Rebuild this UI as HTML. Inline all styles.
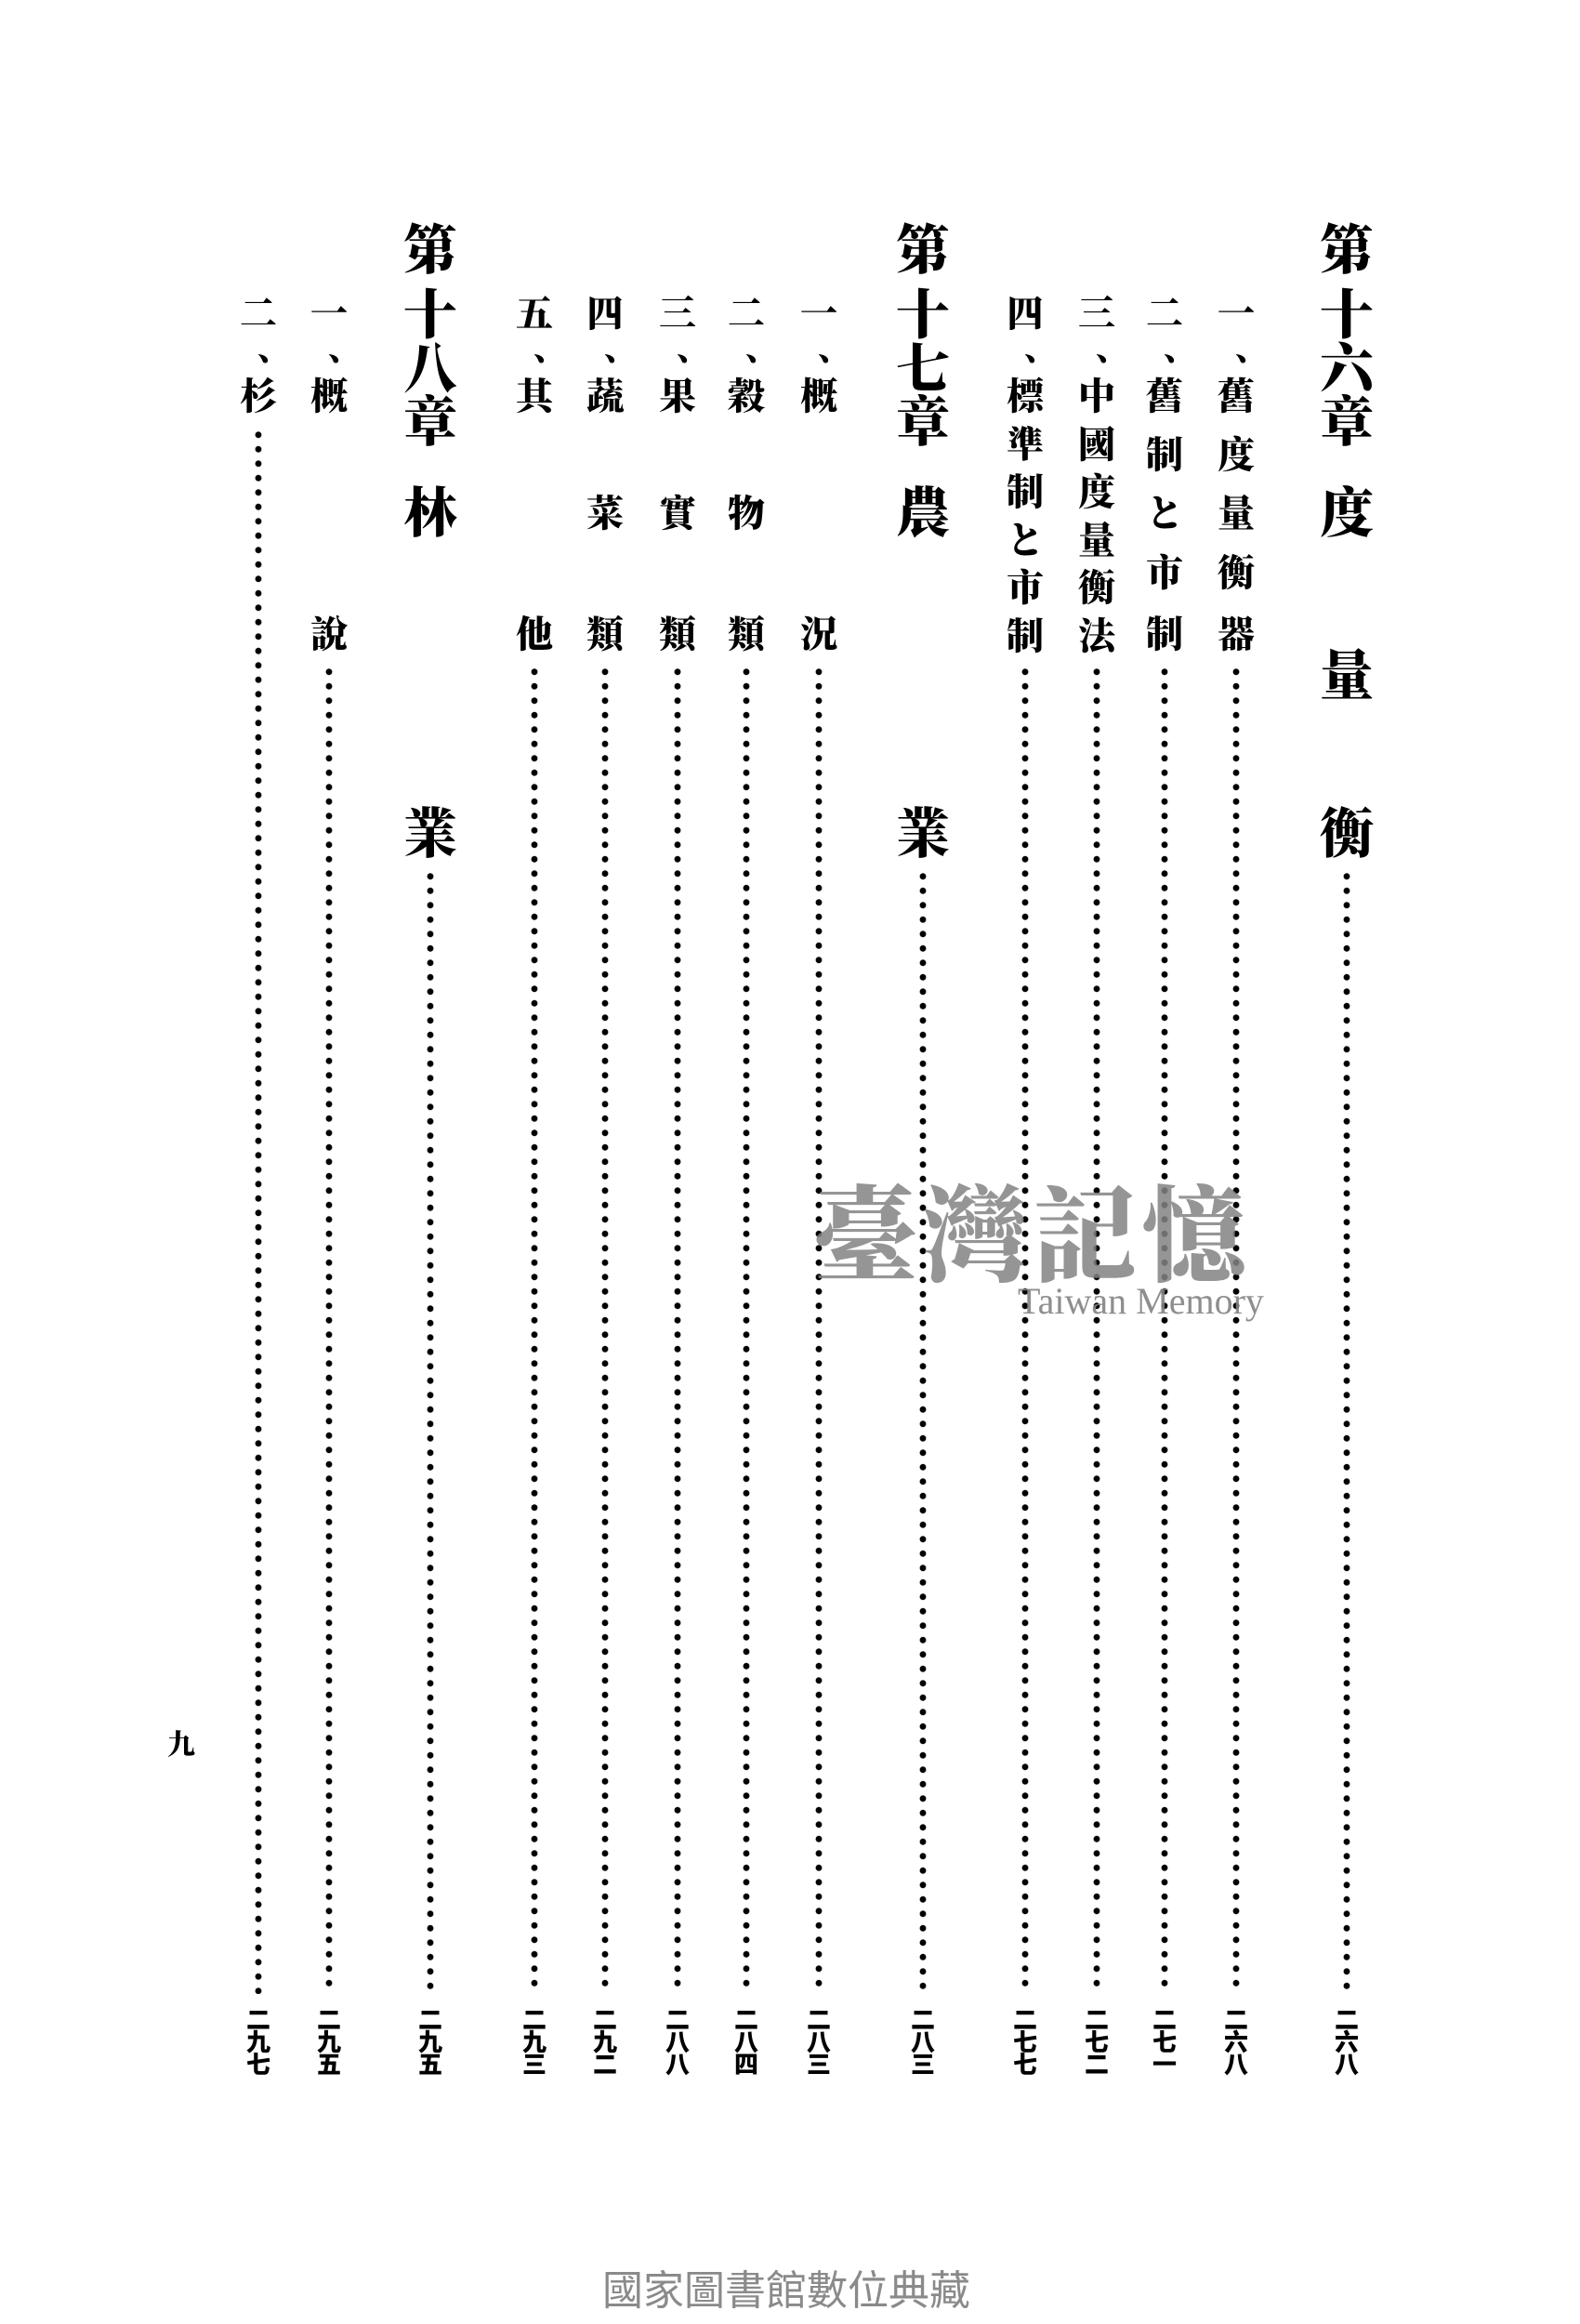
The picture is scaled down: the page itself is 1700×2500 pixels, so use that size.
<!DOCTYPE html>
<html><head><meta charset="utf-8">
<style>
html,body{margin:0;padding:0;background:#fff;}
body{width:1700px;height:2500px;position:relative;overflow:hidden;font-family:"Liberation Serif","Noto Serif CJK SC","Noto Sans CJK SC",serif;color:#000;}
.c{position:absolute;width:60px;text-align:center;font-size:40px;line-height:40px;font-weight:900;transform:translate(-50%,-50%);}
.h{position:absolute;width:70px;text-align:center;font-size:58px;line-height:58px;font-weight:900;transform:translate(-50%,-50%);}
.p{position:absolute;width:12px;text-align:left;font-size:36px;line-height:36px;font-weight:900;transform:translate(-10%,-50%);}
.d{position:absolute;width:8px;margin-left:-4px;background:radial-gradient(circle,#000 3px,rgba(0,0,0,0) 3.8px) 0 0/8px 15.5px repeat-y;}
.n{position:absolute;top:2160px;width:32px;margin-left:-16px;text-align:center;font-size:26px;line-height:24px;font-weight:900;font-family:"Noto Sans CJK SC",sans-serif;}
</style></head><body>

<!-- Chapter 16 -->
<div class="h" style="left:1449px;top:270px">第</div>
<div class="h" style="left:1449px;top:340px">十</div>
<div class="h" style="left:1449px;top:398px">六</div>
<div class="h" style="left:1449px;top:455px">章</div>
<div class="h" style="left:1449px;top:553px">度</div>
<div class="h" style="left:1449px;top:728px">量</div>
<div class="h" style="left:1449px;top:898px">衡</div>
<div class="d" style="left:1449px;top:935px;height:1210px"></div>
<div class="n" style="left:1449px">二<br>六<br>八</div>

<div class="c" style="left:1330px;top:338px">一</div>
<div class="p" style="left:1330px;top:375px">、</div>
<div class="c" style="left:1330px;top:427px">舊</div>
<div class="c" style="left:1330px;top:490px">度</div>
<div class="c" style="left:1330px;top:553px">量</div>
<div class="c" style="left:1330px;top:617px">衡</div>
<div class="c" style="left:1330px;top:683px">器</div>
<div class="d" style="left:1330px;top:715px;height:1430px"></div>
<div class="n" style="left:1330px">二<br>六<br>八</div>

<div class="c" style="left:1253px;top:338px">二</div>
<div class="p" style="left:1253px;top:375px">、</div>
<div class="c" style="left:1253px;top:427px">舊</div>
<div class="c" style="left:1253px;top:490px">制</div>
<div class="c" style="left:1253px;top:553px">と</div>
<div class="c" style="left:1253px;top:617px">市</div>
<div class="c" style="left:1253px;top:683px">制</div>
<div class="d" style="left:1253px;top:715px;height:1430px"></div>
<div class="n" style="left:1253px">二<br>七<br>一</div>

<div class="c" style="left:1180px;top:338px">三</div>
<div class="p" style="left:1180px;top:375px">、</div>
<div class="c" style="left:1180px;top:427px">中</div>
<div class="c" style="left:1180px;top:479px">國</div>
<div class="c" style="left:1180px;top:530px">度</div>
<div class="c" style="left:1180px;top:582px">量</div>
<div class="c" style="left:1180px;top:633px">衡</div>
<div class="c" style="left:1180px;top:685px">法</div>
<div class="d" style="left:1180px;top:715px;height:1430px"></div>
<div class="n" style="left:1180px">二<br>七<br>二</div>

<div class="c" style="left:1103px;top:338px">四</div>
<div class="p" style="left:1103px;top:375px">、</div>
<div class="c" style="left:1103px;top:427px">標</div>
<div class="c" style="left:1103px;top:479px">準</div>
<div class="c" style="left:1103px;top:530px">制</div>
<div class="c" style="left:1103px;top:582px">と</div>
<div class="c" style="left:1103px;top:633px">市</div>
<div class="c" style="left:1103px;top:685px">制</div>
<div class="d" style="left:1103px;top:715px;height:1430px"></div>
<div class="n" style="left:1103px">二<br>七<br>七</div>

<!-- Chapter 17 -->
<div class="h" style="left:993px;top:270px">第</div>
<div class="h" style="left:993px;top:340px">十</div>
<div class="h" style="left:993px;top:398px">七</div>
<div class="h" style="left:993px;top:455px">章</div>
<div class="h" style="left:993px;top:553px">農</div>
<div class="h" style="left:993px;top:898px">業</div>
<div class="d" style="left:993px;top:935px;height:1210px"></div>
<div class="n" style="left:993px">二<br>八<br>三</div>

<div class="c" style="left:881px;top:338px">一</div>
<div class="p" style="left:881px;top:375px">、</div>
<div class="c" style="left:881px;top:427px">概</div>
<div class="c" style="left:881px;top:683px">況</div>
<div class="d" style="left:881px;top:715px;height:1430px"></div>
<div class="n" style="left:881px">二<br>八<br>三</div>

<div class="c" style="left:803px;top:338px">二</div>
<div class="p" style="left:803px;top:375px">、</div>
<div class="c" style="left:803px;top:427px">穀</div>
<div class="c" style="left:803px;top:553px">物</div>
<div class="c" style="left:803px;top:683px">類</div>
<div class="d" style="left:803px;top:715px;height:1430px"></div>
<div class="n" style="left:803px">二<br>八<br>四</div>

<div class="c" style="left:729px;top:338px">三</div>
<div class="p" style="left:729px;top:375px">、</div>
<div class="c" style="left:729px;top:427px">果</div>
<div class="c" style="left:729px;top:553px">實</div>
<div class="c" style="left:729px;top:683px">類</div>
<div class="d" style="left:729px;top:715px;height:1430px"></div>
<div class="n" style="left:729px">二<br>八<br>八</div>

<div class="c" style="left:651px;top:338px">四</div>
<div class="p" style="left:651px;top:375px">、</div>
<div class="c" style="left:651px;top:427px">蔬</div>
<div class="c" style="left:651px;top:553px">菜</div>
<div class="c" style="left:651px;top:683px">類</div>
<div class="d" style="left:651px;top:715px;height:1430px"></div>
<div class="n" style="left:651px">二<br>九<br>二</div>

<div class="c" style="left:575px;top:338px">五</div>
<div class="p" style="left:575px;top:375px">、</div>
<div class="c" style="left:575px;top:427px">其</div>
<div class="c" style="left:575px;top:683px">他</div>
<div class="d" style="left:575px;top:715px;height:1430px"></div>
<div class="n" style="left:575px">二<br>九<br>三</div>

<!-- Chapter 18 -->
<div class="h" style="left:463px;top:270px">第</div>
<div class="h" style="left:463px;top:340px">十</div>
<div class="h" style="left:463px;top:398px">八</div>
<div class="h" style="left:463px;top:455px">章</div>
<div class="h" style="left:463px;top:553px">林</div>
<div class="h" style="left:463px;top:898px">業</div>
<div class="d" style="left:463px;top:935px;height:1210px"></div>
<div class="n" style="left:463px">二<br>九<br>五</div>

<div class="c" style="left:354px;top:338px">一</div>
<div class="p" style="left:354px;top:375px">、</div>
<div class="c" style="left:354px;top:427px">概</div>
<div class="c" style="left:354px;top:683px">說</div>
<div class="d" style="left:354px;top:715px;height:1430px"></div>
<div class="n" style="left:354px">二<br>九<br>五</div>

<div class="c" style="left:278px;top:338px">二</div>
<div class="p" style="left:278px;top:375px">、</div>
<div class="c" style="left:278px;top:427px">杉</div>
<div class="d" style="left:278px;top:460px;height:1685px"></div>
<div class="n" style="left:278px">二<br>九<br>七</div>

<!-- page number -->
<div style="position:absolute;left:180px;top:1860px;font-size:30px;font-weight:900;line-height:36px;">九</div>

<!-- watermark -->
<div style="position:absolute;left:846px;top:1262px;width:530px;text-align:center;font-size:112px;line-height:120px;color:rgba(130,130,130,0.85);font-weight:900;font-family:'Noto Serif CJK SC',serif;letter-spacing:6px;">臺灣記憶</div>
<div style="position:absolute;left:1095px;top:1380px;font-size:40px;line-height:40px;color:rgba(130,130,130,0.9);font-family:'Liberation Serif',serif;">Taiwan Memory</div>

<!-- footer -->
<div style="position:absolute;left:0;width:1692px;top:2440px;text-align:center;font-size:44px;line-height:50px;color:#8a8a8a;font-family:'Liberation Sans','Noto Sans CJK TC',sans-serif;">國家圖書館數位典藏</div>

</body></html>
